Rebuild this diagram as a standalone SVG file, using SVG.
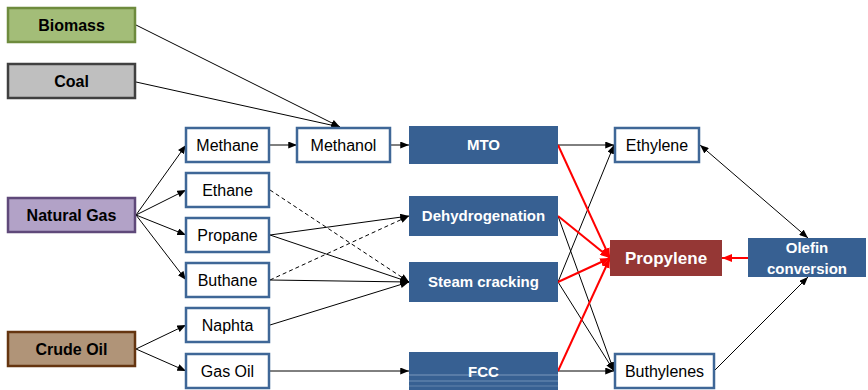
<svg xmlns="http://www.w3.org/2000/svg" width="868" height="390" viewBox="0 0 868 390">
<defs>
<marker id="ah" viewBox="0 0 10 8" refX="10" refY="4" markerWidth="9" markerHeight="7" markerUnits="userSpaceOnUse" orient="auto-start-reverse"><path d="M0,0 L10,4 L0,8 z" fill="#000"/></marker>
<marker id="ahr" viewBox="0 0 10 8" refX="10" refY="4" markerWidth="10" markerHeight="8" markerUnits="userSpaceOnUse" orient="auto"><path d="M0,0 L10,4 L0,8 z" fill="#ff0000"/></marker>
</defs>
<style>
text{font-family:"Liberation Sans",Arial,sans-serif;text-anchor:middle}
.src{stroke-width:2.5}
.srct{font-weight:bold;font-size:16px;fill:#000}
.wb{fill:#fff;stroke:#3f6797;stroke-width:2.5}
.wt{font-size:16px;fill:#000}
.bb{fill:#376092}
.bt{font-weight:bold;font-size:15px;fill:#fff}
.c{fill:none;stroke:#000;stroke-width:1;marker-end:url(#ah)}
.d{stroke-dasharray:4 3}
.r{fill:none;stroke:#ff0000;stroke-width:2;marker-end:url(#ahr)}
</style>
<rect width="868" height="390" fill="#fff"/>
<g id="connectors">
<path class="c" d="M136,25 L340,127"/>
<path class="c" d="M136,82 L340,127"/>
<path class="c" d="M270,145 L297,145"/>
<path class="c" d="M390,145 L409,145"/>
<path class="c" d="M136,215 L186,145"/>
<path class="c" d="M136,215 L186,190"/>
<path class="c" d="M136,215 L186,235"/>
<path class="c" d="M136,215 L186,280"/>
<path class="c" d="M136,349 L186,325"/>
<path class="c" d="M136,349 L186,371"/>
<path class="c d" d="M270,190 L409,282"/>
<path class="c d" d="M270,280 L409,216"/>
<path class="c" d="M270,235 L409,216"/>
<path class="c" d="M270,235 L409,282"/>
<path class="c" d="M270,280 L409,282"/>
<path class="c" d="M270,325 L409,282"/>
<path class="c" d="M270,371 L409,371"/>
<path class="c" d="M558,145 L614,145"/>
<path class="c" d="M558,282 L614,145"/>
<path class="c" d="M558,216 L614,371"/>
<path class="c" d="M558,282 L614,371"/>
<path class="c" d="M558,371 L614,371"/>
<path class="r" d="M558,145 L610,258"/>
<path class="r" d="M558,216 L610,258"/>
<path class="r" d="M558,282 L610,258"/>
<path class="r" d="M558,371 L610,258"/>
<path class="c" style="marker-start:url(#ah)" d="M700,145 L808,238"/>
<path class="c" d="M714,371 L808,277"/>
<path class="r" d="M748,258 L722,258"/>
</g>
<g id="biomass"><rect class="src" x="8" y="8" width="127" height="34" fill="#a3bd78" stroke="#6e8b3d"/><text class="srct" x="71.5" y="31">Biomass</text></g>
<g id="coal"><rect class="src" x="8" y="64" width="127" height="34" fill="#bfbfbf" stroke="#404040"/><text class="srct" x="71.5" y="87">Coal</text></g>
<g id="natural-gas"><rect class="src" x="8" y="198" width="127" height="34" fill="#b2a2c7" stroke="#5f497a"/><text class="srct" x="71.5" y="221">Natural Gas</text></g>
<g id="crude-oil"><rect class="src" x="8" y="332" width="127" height="34" fill="#b09478" stroke="#653510"/><text class="srct" x="71.5" y="355">Crude Oil</text></g>
<g id="methane"><rect class="wb" x="186" y="128" width="83" height="34"/><text class="wt" x="227.5" y="151">Methane</text></g>
<g id="ethane"><rect class="wb" x="186" y="173" width="83" height="34"/><text class="wt" x="227.5" y="196">Ethane</text></g>
<g id="propane"><rect class="wb" x="186" y="218" width="83" height="34"/><text class="wt" x="227.5" y="241">Propane</text></g>
<g id="buthane"><rect class="wb" x="186" y="263" width="83" height="34"/><text class="wt" x="227.5" y="286">Buthane</text></g>
<g id="naphta"><rect class="wb" x="186" y="308" width="83" height="34"/><text class="wt" x="227.5" y="331">Naphta</text></g>
<g id="gas-oil"><rect class="wb" x="186" y="354" width="83" height="34"/><text class="wt" x="227.5" y="377">Gas Oil</text></g>
<g id="methanol"><rect class="wb" x="297" y="128" width="93" height="34"/><text class="wt" x="343.5" y="151">Methanol</text></g>
<g id="mto"><rect class="bb" x="409" y="126" width="149" height="38"/><text class="bt" x="483.5" y="150">MTO</text></g>
<g id="dehydrogenation"><rect class="bb" x="409" y="196" width="149" height="40"/><text class="bt" x="483.5" y="221">Dehydrogenation</text></g>
<g id="steam-cracking"><rect class="bb" x="409" y="262" width="149" height="40"/><text class="bt" x="483.5" y="287">Steam cracking</text></g>
<g id="fcc"><rect class="bb" x="409" y="352" width="149" height="38"/><rect x="409" y="374" width="149" height="2" fill="#6f8fb5" opacity="0.6"/><rect x="409" y="380" width="149" height="2" fill="#6f8fb5" opacity="0.5"/><rect x="409" y="385" width="149" height="2" fill="#6f8fb5" opacity="0.4"/><text class="bt" x="483.5" y="377">FCC</text></g>
<g id="ethylene"><rect class="wb" x="615" y="128" width="84" height="34"/><text class="wt" x="657" y="151">Ethylene</text></g>
<g id="propylene"><rect x="610" y="240" width="112" height="36" fill="#953735"/><text x="666" y="264" style="font-weight:bold;font-size:17px;fill:#fff">Propylene</text></g>
<g id="olefin-conversion"><rect class="bb" x="748" y="238" width="118" height="39"/><text class="bt" x="807" y="253">Olefin</text><text class="bt" x="807" y="274">conversion</text></g>
<g id="buthylenes"><rect class="wb" x="615" y="354" width="99" height="34"/><text class="wt" x="664.5" y="377">Buthylenes</text></g>
</svg>
